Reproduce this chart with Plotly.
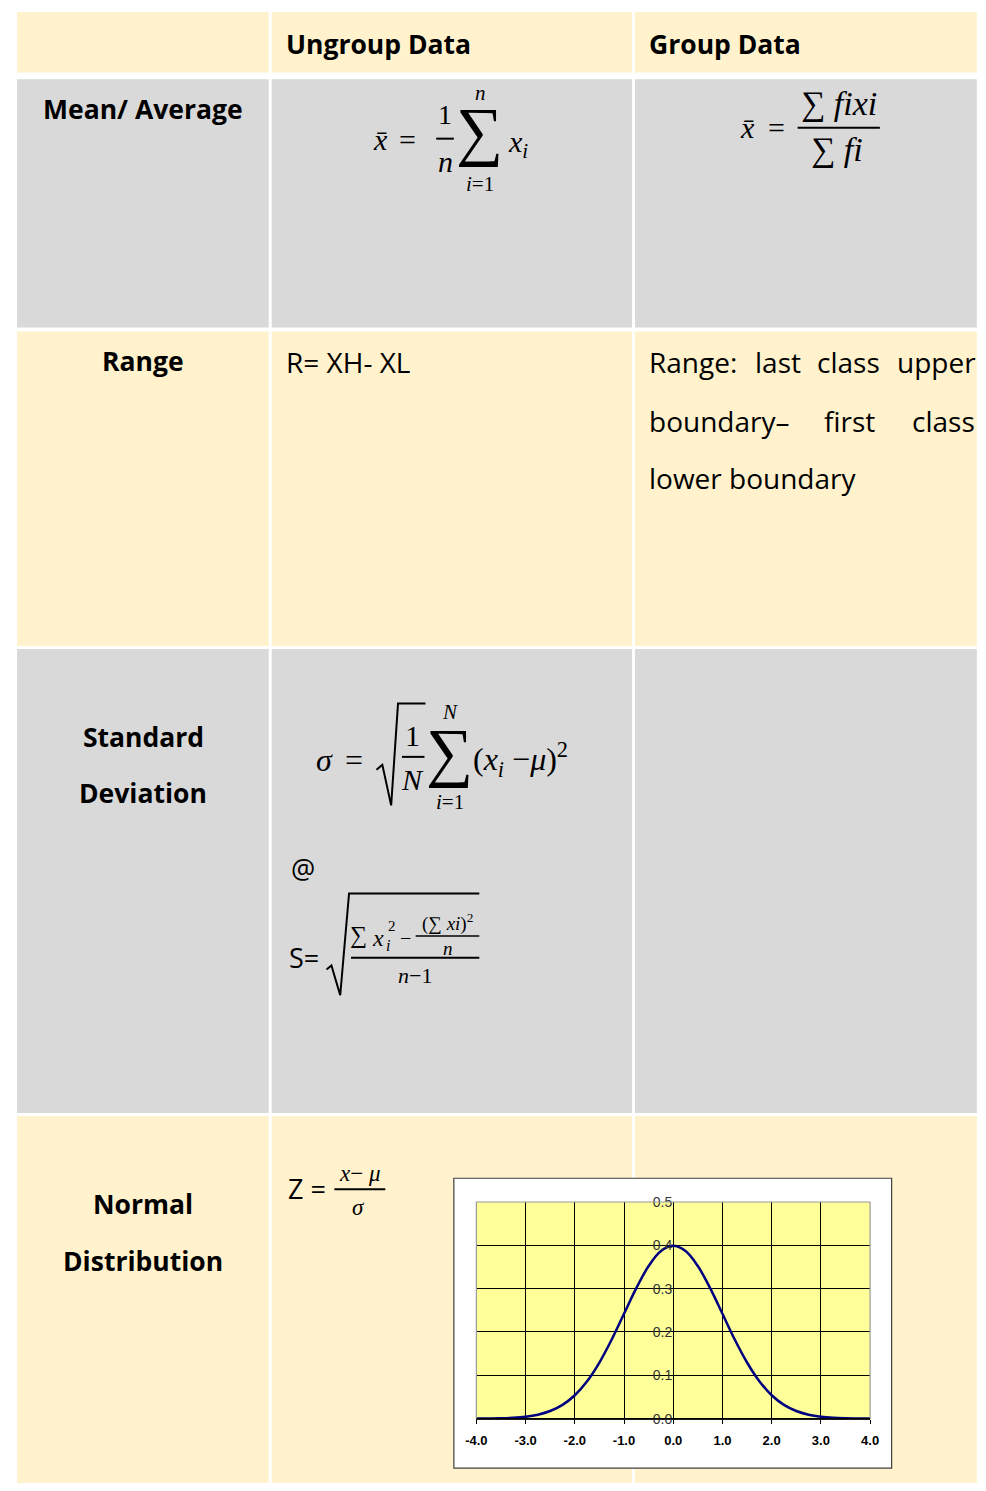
import plotly.graph_objects as go

# the page keeps the browser's 8px body margin, so the figure is drawn 16px smaller
OFF = 8
W, H = 986 - 2 * OFF, 1491 - 2 * OFF

# table content
HEADERS = ["Ungroup Data", "Group Data"]
ROW_LABELS = [["Mean/ Average"], ["Range"], ["Standard", "Deviation"], ["Normal", "Distribution"]]
RANGE_UNGROUP = "R= XH- XL"
RANGE_GROUP = [["Range:", "last", "class", "upper"], ["boundary\u2013", "first", "class"], ["lower boundary"]]

# normal curve
CURVE_X = [-4.0, -3.75, -3.5, -3.25, -3.0, -2.75, -2.5, -2.25, -2.0, -1.75, -1.5, -1.25, -1.0, -0.75, -0.5, -0.25,
           0.0, 0.25, 0.5, 0.75, 1.0, 1.25, 1.5, 1.75, 2.0, 2.25, 2.5, 2.75, 3.0, 3.25, 3.5, 3.75, 4.0]
CURVE_Y = [0.0001, 0.0004, 0.0009, 0.002, 0.0044, 0.0091, 0.0175, 0.0317, 0.054, 0.0863, 0.1295, 0.1826, 0.242,
           0.3011, 0.3521, 0.3867, 0.3989, 0.3867, 0.3521, 0.3011, 0.242, 0.1826, 0.1295, 0.0863, 0.054, 0.0317,
           0.0175, 0.0091, 0.0044, 0.002, 0.0009, 0.0004, 0.0001]
X_TICKS = [-4, -3, -2, -1, 0, 1, 2, 3, 4]
Y_TICKS = [0.0, 0.1, 0.2, 0.3, 0.4, 0.5]

# layout (page pixels)
COLS = [(6, 263), (266, 634), (637, 986)]
ROWS = [(4, 65), (72, 323), (327, 645), (648, 1117), (1120, 1491)]
CREAM = "#FFF2CC"
GREY = "#D9D9D9"
SANS = "Open Sans"
SERIF = "Liberation Serif"


def px(x):
    return (x - OFF) / W


def py(y):
    return 1 - (y - OFF) / H


fig = go.Figure()

# cell backgrounds
for r, (y0, y1) in enumerate(ROWS):
    fill = CREAM if r % 2 == 0 else GREY
    for x0, x1 in COLS:
        fig.add_shape(type="rect", xref="paper", yref="paper", x0=px(x0), x1=px(x1), y0=py(y0), y1=py(y1),
                      fillcolor=fill, line_width=0, layer="below")

# white frame around the inset chart, then its yellow plotting area
fig.add_shape(type="rect", xref="paper", yref="paper", x0=px(452), x1=px(899), y0=py(1183), y1=py(1476),
              fillcolor="white", line=dict(color="#404040", width=1.2), layer="below")
fig.add_shape(type="rect", xref="paper", yref="paper", x0=px(475), x1=px(877), y0=py(1426), y1=py(1207),
              fillcolor="#FFFF99", line_width=0, layer="below")


def txt(s, x, y, size, font=SANS, anchor="center", color="black"):
    fig.add_annotation(x=px(x), y=py(y), xref="paper", yref="paper", text=s, showarrow=False,
                       xanchor=anchor, yanchor="middle", font=dict(family=font, size=size, color=color))


def hline(x0, x1, y, w=2):
    fig.add_shape(type="line", xref="paper", yref="paper", x0=px(x0), x1=px(x1), y0=py(y), y1=py(y),
                  line=dict(color="black", width=w))


def poly(pts, w=2):
    d = "M " + " L ".join(f"{px(a):.5f} {py(b):.5f}" for a, b in pts)
    fig.add_shape(type="path", xref="paper", yref="paper", path=d, line=dict(color="black", width=w))


# header
txt("<b>" + HEADERS[0] + "</b>", 279, 36, 26.5, anchor="left")
txt("<b>" + HEADERS[1] + "</b>", 649, 36, 26.5, anchor="left")

# row labels
label_y = [[102], [357], [737, 794], [1209, 1267]]
for lines, ys in zip(ROW_LABELS, label_y):
    for s, y in zip(lines, ys):
        txt("<b>" + s + "</b>", 135, y, 26.5)

# mean, ungrouped
txt("<i>x\u0304</i>", 377, 133, 30, SERIF)
txt("=", 405, 133, 30, SERIF)
txt("1", 443, 108, 28, SERIF)
hline(434, 452, 132)
txt("<i>n</i>", 443, 155, 30, SERIF)
txt("\u2211", 478, 124, 66, SERIF)
txt("<i>n</i>", 479, 86, 21, SERIF)
txt("<i>i</i>=1", 479, 178, 21, SERIF)
txt("<i>x<sub>i</sub></i>", 517, 137, 30, SERIF)

# mean, grouped
txt("<i>x\u0304</i>", 752, 121, 30, SERIF)
txt("=", 781, 121, 30, SERIF)
txt("\u2211 <i>fixi</i>", 845, 97, 34, SERIF)
hline(803, 887, 121)
txt("\u2211 <i>fi</i>", 843, 143, 34, SERIF)

# range
txt(RANGE_UNGROUP, 279, 358, 28, anchor="left")
word_x = [[649, 757, 821, 902], [649, 828, 918], [649]]
for words, xs, y in zip(RANGE_GROUP, word_x, [358, 417, 475]):
    for s, x in zip(words, xs):
        txt(s, x, y, 28, anchor="left")

# standard deviation (population)
txt("<i>\u03c3</i>", 320, 760, 32, SERIF)
txt("=", 350, 760, 32, SERIF)
poly([(373, 770), (379, 765), (388, 806), (395, 703), (423, 703)])
txt("1", 410, 735, 30, SERIF)
hline(399, 422, 757)
txt("<i>N</i>", 410, 780, 30, SERIF)
txt("\u2211", 448, 752, 66, SERIF)
txt("<i>N</i>", 448, 712, 21, SERIF)
txt("<i>i</i>=1", 448, 803, 21, SERIF)
txt("(<i>x<sub>i</sub></i> \u2212<i>\u03bc</i>)<sup>2</sup>", 470, 760, 32, SERIF, anchor="left")

txt("@", 298, 870, 27)

# standard deviation (sample)
txt("S=", 299, 960, 27)
poly([(322, 972), (327, 968), (336, 998), (345, 895), (478, 895)])
txt("\u2211", 355, 938, 24, SERIF)
txt("<i>x</i>", 375, 940, 24, SERIF)
txt("2", 389, 928, 15, SERIF)
txt("<i>i</i>", 385, 948, 16, SERIF)
txt("\u2212", 403, 940, 20, SERIF)
txt("(\u2211 <i>xi</i>)<sup>2</sup>", 446, 924, 19, SERIF)
hline(413, 478, 938, 1.5)
txt("<i>n</i>", 446, 951, 19, SERIF)
hline(347, 478, 960)
txt("<i>n</i>\u22121", 412, 978, 22, SERIF)

# z score
txt("Z =", 302, 1193, 27)
txt("<i>x</i>\u2212 <i>\u03bc</i>", 356, 1178, 23, SERIF)
hline(330, 382, 1194)
txt("<i>\u03c3</i>", 355, 1213, 23, SERIF)

# inset normal distribution chart
fig.add_trace(go.Scatter(x=CURVE_X, y=CURVE_Y, mode="lines", line=dict(color="#000080", width=2.5, shape="spline"),
                         hoverinfo="skip", showlegend=False))

xd = [px(475), px(877)]
fig.update_xaxes(domain=xd, range=[-4, 4], tickvals=X_TICKS, ticktext=[f"{v:.1f}" for v in X_TICKS],
                 showgrid=True, gridcolor="black", gridwidth=1, zeroline=True, zerolinecolor="black",
                 zerolinewidth=1, showline=True, linecolor="black", linewidth=1, ticks="outside", ticklen=4,
                 tickcolor="black", ticklabelstandoff=6,
                 tickfont=dict(family="Liberation Sans", size=13, color="black", weight="bold"))
fig.update_yaxes(domain=[py(1426), py(1207)], range=[0, 0.5], tickvals=Y_TICKS,
                 ticktext=[f"{v:.1f}" for v in Y_TICKS], anchor="free", position=(xd[0] + xd[1]) / 2,
                 showgrid=True, gridcolor="black", gridwidth=1, zeroline=False, showline=False,
                 ticks="", ticklabelstandoff=1,
                 tickfont=dict(family="Liberation Sans", size=14, color="#333333"))
fig.add_shape(type="rect", xref="x domain", yref="y domain", x0=0, x1=1, y0=0, y1=1,
              line=dict(color="#9a9a9a", width=1.2), layer="above")
fig.add_shape(type="line", xref="x domain", yref="y domain", x0=0, x1=1, y0=0, y1=0,
              line=dict(color="black", width=1.2), layer="above")

fig.update_layout(width=W, height=H, margin=dict(l=0, r=0, t=0, b=0), paper_bgcolor="white",
                  plot_bgcolor="#FFFF99", showlegend=False)

fig.write_html("out.html", config={"displayModeBar": False})
